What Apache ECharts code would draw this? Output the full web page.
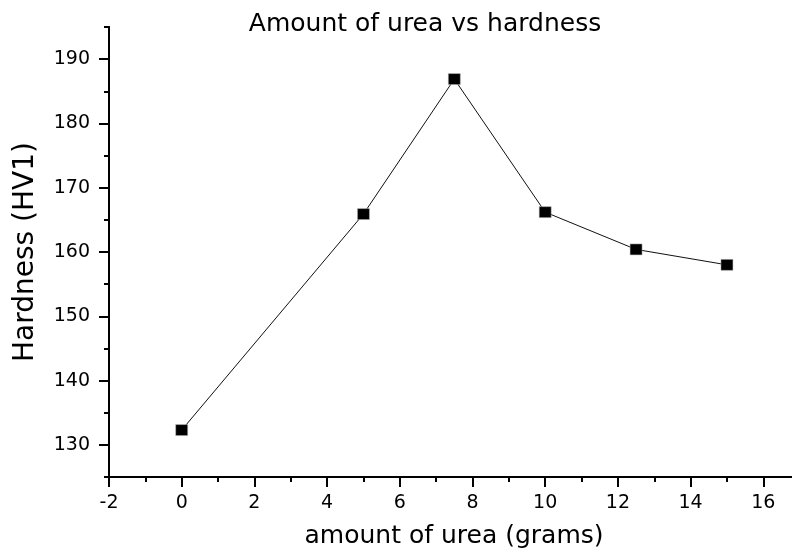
<!DOCTYPE html>
<html>
<head>
<meta charset="utf-8">
<script src="https://cdn.jsdelivr.net/npm/echarts@6/dist/echarts.min.js"></script>
<style>html,body{margin:0;padding:0;background:#fff}#c{width:792px;height:548px}</style>
</head>
<body>
<div id="c"></div>
<script>
const chartTitle = 'Amount of urea vs hardness';
const xName = 'amount of urea (grams)';
const yName = 'Hardness (HV1)';
const ureaGrams = [0, 5, 7.5, 10, 12.5, 15];
const hardness = [132.3, 165.9, 186.9, 166.2, 160.4, 158.0];
const yMajorTicks = [130, 140, 150, 160, 170, 180, 190];

const FONT = 'DejaVu Sans';
const chart = echarts.init(document.getElementById('c'), null, {renderer: 'canvas'});
const points = ureaGrams.map((x, i) => [x, hardness[i]]);
const gridRect = {left: 109, top: 27, width: 727, height: 450, containLabel: false, outerBoundsMode: 'none'};

chart.setOption({
  backgroundColor: '#fff',
  animation: false,
  title: {
    text: chartTitle,
    left: 420, top: 7, textAlign: 'center',
    textStyle: {fontFamily: FONT, fontSize: 25, fontWeight: 'normal', color: '#000'}
  },
  grid: [Object.assign({}, gridRect), Object.assign({}, gridRect)],
  xAxis: [{
    gridIndex: 0,
    type: 'value', min: -2, max: 18, interval: 2,
    position: 'bottom',
    name: xName, nameLocation: 'middle', nameGap: 47,
    nameTextStyle: {fontFamily: FONT, fontSize: 25, color: '#000', padding: [0, 37, 0, 0]},
    axisLine: {show: true, onZero: false, lineStyle: {color: '#000', width: 2}},
    axisTick: {show: true, inside: false, length: 10, lineStyle: {color: '#000', width: 2}},
    minorTick: {show: true, splitNumber: 2, length: 5, lineStyle: {color: '#000', width: 2}},
    axisLabel: {fontFamily: FONT, fontSize: 19, color: '#000', margin: 17},
    splitLine: {show: false}, minorSplitLine: {show: false}
  }, {
    gridIndex: 1, type: 'value', min: -2, max: 18, interval: 2, show: false
  }],
  yAxis: [{
    gridIndex: 0,
    type: 'value', min: 125, max: 195, interval: 5,
    position: 'left',
    name: yName, nameLocation: 'middle', nameGap: 69, nameRotate: 90,
    nameTextStyle: {fontFamily: FONT, fontSize: 28, color: '#000'},
    axisLine: {show: true, onZero: false, lineStyle: {color: '#000', width: 2}},
    axisTick: {show: true, inside: false, length: 5, lineStyle: {color: '#000', width: 2}},
    axisLabel: {fontFamily: FONT, fontSize: 19, color: '#000', margin: 19,
      formatter: v => (yMajorTicks.indexOf(v) >= 0 ? String(v) : '')},
    splitLine: {show: false}
  }, {
    gridIndex: 1,
    type: 'value', min: 125, max: 195, interval: 5,
    position: 'left',
    axisLine: {show: true, onZero: false, lineStyle: {color: '#000', width: 2}},
    axisTick: {show: true, inside: false, length: 10, customValues: yMajorTicks,
      lineStyle: {color: '#000', width: 2}},
    axisLabel: {show: false},
    splitLine: {show: false}
  }],
  series: [{
    type: 'line',
    data: points,
    xAxisIndex: 0, yAxisIndex: 0,
    symbol: 'rect', symbolSize: [12, 11],
    itemStyle: {color: '#000', borderColor: '#bbb', borderWidth: 0.5},
    lineStyle: {color: '#111', width: 1},
    showSymbol: true
  }]
});
</script>
</body>
</html>
